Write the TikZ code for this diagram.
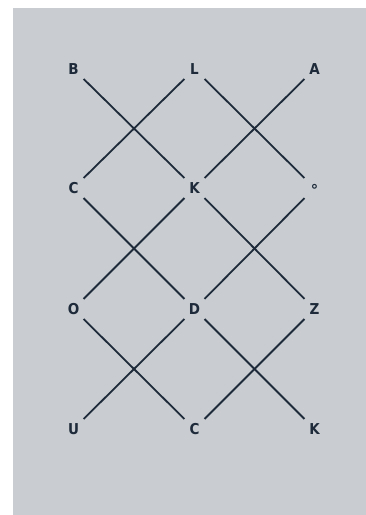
\documentclass[tikz,border=0pt]{standalone}
\usepackage{fontspec}
\newfontfamily\lblfont{DejaVu Sans Condensed}
\newfontfamily\symfont{DejaVu Sans}
\definecolor{bgray}{HTML}{C9CDD1}
\definecolor{ink}{HTML}{1E2A3A}
\begin{document}
\begin{tikzpicture}[x=1pt,y=-1pt,
  lbl/.style={circle,minimum size=28pt,inner sep=0pt,text=ink,font=\lblfont\bfseries\fontsize{15}{15}\selectfont},
  edge/.style={draw=ink,line width=1.8pt}]
\useasboundingbox (0,0) rectangle (366,515);
\fill[bgray] (13,8) rectangle (366,515);
\node[lbl] (B)  at (73.5,69)  {B};
\node[lbl] (L)  at (194.5,69) {L};
\node[lbl] (A)  at (314.5,69) {A};
\node[lbl] (C1) at (73.5,188) {C};
\node[lbl] (K1) at (194.5,188) {K};
\node[lbl] (R)  at (314.5,188) {\symfont\bfseries\fontsize{15}{15}\selectfont ∘};
\node[lbl] (O)  at (73.5,309) {O};
\node[lbl] (D)  at (194.5,309) {D};
\node[lbl] (Z)  at (314.5,309) {Z};
\node[lbl] (U)  at (73.5,429) {U};
\node[lbl] (C2) at (194.5,429) {C};
\node[lbl] (K2) at (314.5,429) {K};
\draw[edge] (B) -- (K1);
\draw[edge] (L) -- (C1);
\draw[edge] (L) -- (R);
\draw[edge] (A) -- (K1);
\draw[edge] (C1) -- (D);
\draw[edge] (K1) -- (O);
\draw[edge] (K1) -- (Z);
\draw[edge] (R) -- (D);
\draw[edge] (O) -- (C2);
\draw[edge] (D) -- (U);
\draw[edge] (D) -- (K2);
\draw[edge] (Z) -- (C2);
\end{tikzpicture}
\end{document}
